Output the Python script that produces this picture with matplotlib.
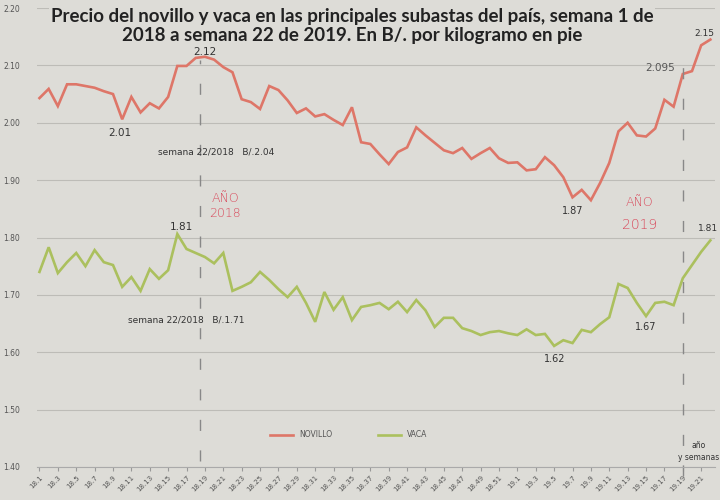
import matplotlib.pyplot as plt

# -----------------------------
# DATA (B/. per kg, weekly)
# -----------------------------
weeks_2018 = list(range(1, 53))
weeks_2019 = list(range(1, 23))

novillo_2018 = [2.043, 2.059, 2.029, 2.067, 2.067, 2.064, 2.061, 2.055, 2.050, 2.006,
                2.045, 2.018, 2.034, 2.025, 2.045, 2.099, 2.099, 2.113, 2.115, 2.110,
                2.097, 2.088, 2.041, 2.036, 2.024, 2.064, 2.057, 2.039, 2.017, 2.025,
                2.011, 2.015, 2.005, 1.996, 2.027, 1.966, 1.963, 1.945, 1.928, 1.949,
                1.957, 1.992, 1.978, 1.965, 1.952, 1.947, 1.956, 1.937, 1.947, 1.956,
                1.938, 1.930]
novillo_2019 = [1.931, 1.917, 1.919, 1.940, 1.926, 1.905, 1.870, 1.883, 1.865, 1.895,
                1.930, 1.985, 2.000, 1.978, 1.976, 1.990, 2.040, 2.028, 2.085, 2.090,
                2.135, 2.145]

vaca_2018 = [1.740, 1.783, 1.738, 1.757, 1.773, 1.750, 1.778, 1.757, 1.752, 1.714,
             1.731, 1.707, 1.745, 1.728, 1.743, 1.806, 1.780, 1.773, 1.766, 1.755,
             1.773, 1.707, 1.714, 1.722, 1.740, 1.726, 1.710, 1.696, 1.714, 1.686,
             1.653, 1.705, 1.674, 1.696, 1.656, 1.679, 1.682, 1.686, 1.675, 1.688,
             1.670, 1.691, 1.673, 1.644, 1.660, 1.660, 1.642, 1.637, 1.630, 1.635,
             1.637, 1.633]
vaca_2019 = [1.630, 1.640, 1.630, 1.632, 1.611, 1.621, 1.616, 1.639, 1.635, 1.649,
             1.661, 1.719, 1.712, 1.686, 1.663, 1.686, 1.688, 1.682, 1.729, 1.752,
             1.775, 1.795]

week_labels = [f"18.{w}" for w in weeks_2018] + [f"19.{w}" for w in weeks_2019]
novillo = novillo_2018 + novillo_2019
vaca = vaca_2018 + vaca_2019
x = list(range(len(week_labels)))

# -----------------------------
# STYLE
# -----------------------------
bg = "#dddcd7"
red = "#de7668"
green = "#abc05e"
txt = "#333333"

fig = plt.figure(figsize=(7.2, 5), dpi=100, facecolor=bg)
ax = fig.add_axes([0.051, 0.066, 0.942, 0.918], facecolor=bg)

ax.plot(x, novillo, color=red, lw=1.9, label="NOVILLO", solid_joinstyle="miter")
ax.plot(x, vaca, color=green, lw=1.9, label="VACA", solid_joinstyle="miter")

ax.set_xlim(-0.3, 73.5)
ax.set_ylim(1.40, 2.20)
ax.set_yticks([1.40 + 0.1 * i for i in range(9)])
ax.set_yticklabels([f"{1.40 + 0.1 * i:.2f}" for i in range(9)], fontsize=5.5, color="#555555")
ax.grid(axis="y", color="#bdbcb7", lw=0.8)
ax.set_axisbelow(True)

ax.set_xticks(x[::2])
ax.set_xticklabels(week_labels[::2], rotation=45, ha="right", rotation_mode="anchor",
                   fontsize=5, color="#555555")
ax.tick_params(axis="x", length=3, color="#999999", pad=2)
ax.tick_params(axis="y", length=0, pad=12)

for s in ["top", "right", "left"]:
    ax.spines[s].set_visible(False)
ax.spines["bottom"].set_color("#aaaaaa")

# Title (covers the top gridline)
ax.text(0.465, 1.0, "Precio del novillo y vaca en las principales subastas del país, semana 1 de\n"
        "2018 a semana 22 de 2019. En B/. por kilogramo en pie",
        transform=ax.transAxes, ha="center", va="top", fontsize=13.5, fontweight="bold",
        family="Lato", color="#222222", linespacing=1.15, zorder=1,
        bbox=dict(facecolor=bg, edgecolor="none", pad=1))

# Markers for the start of each year (vertical dashed)
ax.plot([17.5, 17.5], [1.41, 2.11], color="#888888", lw=1, ls=(0, (8, 14)))
ax.plot([70.0, 70.0], [1.385, 2.10], color="#888888", lw=1, ls=(0, (8, 14)), clip_on=False)

# Value annotations
ax.text(18, 2.124, "2.12", fontsize=7.5, color=txt, ha="center", va="center", zorder=5)
ax.text(8.7, 1.982, "2.01", fontsize=7.5, color=txt, ha="center", va="center")
ax.text(12.9, 1.949, "semana 22/2018   B/.2.04", fontsize=6.5, color=txt, va="center")
ax.text(58.0, 1.846, "1.87", fontsize=7, color=txt, ha="center", va="center")
ax.text(67.5, 2.095, "2.095", fontsize=7.5, color="#555555", ha="center", va="center")
ax.text(72.4, 2.156, "2.15", fontsize=6.5, color=txt, ha="center", va="center", zorder=5)

ax.text(15.4, 1.818, "1.81", fontsize=7.5, color=txt, ha="center", va="center")
ax.text(9.6, 1.656, "semana 22/2018   B/.1.71", fontsize=6.5, color=txt, va="center")
ax.text(56.1, 1.588, "1.62", fontsize=7, color=txt, ha="center", va="center")
ax.text(66.0, 1.644, "1.67", fontsize=7, color=txt, ha="center", va="center")
ax.text(72.7, 1.816, "1.81", fontsize=6.5, color=txt, ha="center", va="center")

# hand-written year notes
ax.text(20.2, 1.869, "AÑO", fontsize=9, color="#d9485a", ha="center", va="center",
        fontweight="light")
ax.text(20.2, 1.843, "2018", fontsize=9, color="#d9485a", ha="center", va="center",
        fontweight="light")
ax.text(65.3, 1.862, "AÑO", fontsize=9, color="#d9485a", ha="center", va="center",
        fontweight="light")
ax.text(65.3, 1.822, "2019", fontsize=10, color="#d9485a", ha="center", va="center",
        fontweight="light")

ax.text(71.7, 1.438, "año", fontsize=5.5, color=txt, ha="center", va="center")
ax.text(71.7, 1.417, "y semanas", fontsize=5.5, color=txt, ha="center", va="center")

ax.legend(loc="center", bbox_to_anchor=(0.46, 0.07), ncol=2, frameon=False,
          fontsize=5.5, handlelength=3, columnspacing=6, labelcolor="#555555")

fig.savefig("out.png", dpi=100, facecolor=bg)
